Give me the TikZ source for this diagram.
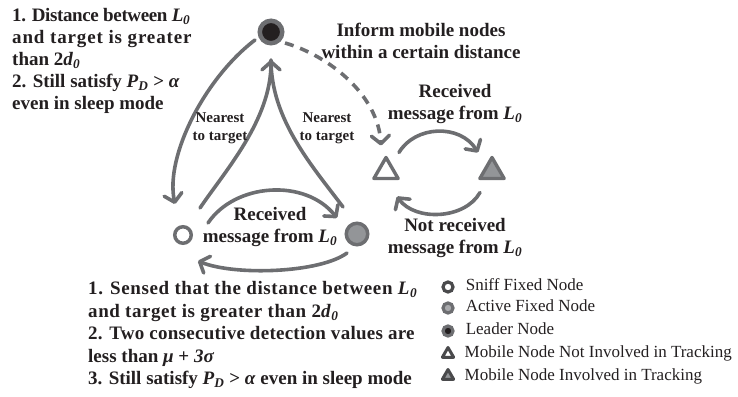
\documentclass[tikz,border=0pt]{standalone}
\usepackage{fontspec}
\setmainfont{Liberation Serif}
\usetikzlibrary{arrows.meta,shapes.geometric,positioning}
\definecolor{FlowGray}{HTML}{6D6E71}
\definecolor{ActiveGray}{HTML}{939598}
\definecolor{LeaderBlack}{HTML}{231F20}
\definecolor{KeyGray}{HTML}{4A4A4C}
\definecolor{InkBlack}{HTML}{231F20}
\newcommand{\Lzero}{\textit{L}\textsubscript{\textit{0}}}
\newcommand{\dzero}{\textit{d}\textsubscript{\textit{0}}}
\newcommand{\Pdet}{\textit{P}\textsubscript{\textit{D}}}
\newcommand{\tracked}[2]{{\addfontfeature{LetterSpace=#1}#2}}

\begin{document}
\begin{tikzpicture}[x=1pt,y=1pt,
	flow/.style={draw=FlowGray,line width=3.6pt,line cap=round,
		-{Straight Barb[length=8pt,width=18pt,round]}},
	plain/.style={draw=FlowGray,line width=3.6pt,line cap=round},
	lbl/.style={font=\fontsize{19}{22}\selectfont\bfseries,align=center,inner sep=0pt,text=InkBlack},
	smalllbl/.style={font=\fontsize{15}{18}\selectfont\bfseries,align=center,inner sep=0pt,text=InkBlack},
	keytext/.style={font=\fontsize{17}{20}\selectfont,inner sep=0pt,anchor=west,text=InkBlack,
		text height=11pt,text depth=3pt},
	fixednode/.style={circle,draw=FlowGray,inner sep=0pt},
	mobnode/.style={regular polygon,regular polygon sides=3,draw=FlowGray,line width=3.4pt,
		line join=round,inner sep=0pt,minimum size=28pt},
	keycircle/.style={circle,inner sep=0pt,minimum size=10pt,line width=3.2pt},
	keytri/.style={regular polygon,regular polygon sides=3,inner sep=0pt,minimum size=13pt,
		line width=3pt,line join=round,draw=KeyGray}]
	\useasboundingbox (0,0) rectangle (738,396);

	% the five nodes of the state diagram
	\node[fixednode,fill=LeaderBlack,line width=4.5pt,minimum size=22.5pt] (leader) at (271,364) {};
	\node[fixednode,fill=white,line width=3.5pt,minimum size=16.5pt] (sniff) at (183,161) {};
	\node[fixednode,fill=ActiveGray,line width=3.5pt,minimum size=21.5pt] (active) at (357,162) {};
	\node[mobnode,fill=white] (mobfree) at (386,224.5) {};
	\node[mobnode,fill=ActiveGray] (mobtrack) at (492,224.5) {};

	% fixed nodes
	\draw[flow] ([shift={(-16,-8)}]leader.center) .. controls +(-50,-38) and +(-10,48) .. ([shift={(-8,31)}]sniff.center);
	\draw[flow] ([shift={(17,27)}]sniff.center) .. controls +(25,37) and +(0,-60) .. ([yshift=-28]leader.center);
	\draw[plain] ([shift={(-14,27)}]active.center) .. controls +(-30,40) and +(0,-60) .. ([yshift=-28]leader.center);
	\draw[flow] ([shift={(25,12)}]sniff.center) .. controls +(27,40) and +(-32,40) .. ([shift={(-20,16)}]active.center);
	\draw[flow] ([shift={(-10,-19)}]active.center) .. controls +(-27,-20) and +(37,-15) .. ([shift={(15,-26)}]sniff.center);

	% mobile nodes
	\draw[flow,dash pattern=on 9pt off 7pt,line cap=butt] ([shift={(14,-11)}]leader.center) .. controls +(45,-13) and +(-3,50) .. ([shift={(-5,26)}]mobfree.center);
	\draw[flow] ([shift={(13,19)}]mobfree.center) .. controls +(16,27) and +(-18,29) .. ([shift={(-14,19)}]mobtrack.center);
	\draw[flow] ([shift={(-12,-21)}]mobtrack.center) .. controls +(-15,-27) and +(18,-25) .. ([shift={(11,-25)}]mobfree.center);

	% labels
	\node[lbl,align=left,anchor=north west] (farcond) at (12,388)
		{\tracked{-2}{1. Distance between \Lzero}\\\tracked{4.5}{and target is greater}\\than 2\dzero\\2. Still satisfy \Pdet{} > \textit{α}\\even in sleep mode};
	\node[lbl,anchor=north] (inform) at (421,373.5) {Inform mobile nodes\\within a certain distance};
	\node[lbl,anchor=north] (mobrecv) at (455,311.5) {Received\\message from \Lzero};
	\node[lbl,anchor=north] (mobnorecv) at (455,177.5) {Not received\\message from \Lzero};
	\node[lbl,anchor=north] (fixrecv) at (270,188.5) {Received\\message from \Lzero};
	\node[smalllbl,anchor=north] (nearleft) at (220,283.5) {Nearest\\to target};
	\node[smalllbl,anchor=north] (nearright) at (327,283.5) {Nearest\\to target};
	\node[lbl,align=left,anchor=north west,font=\fontsize{19}{22.5}\selectfont\bfseries] (sleepcond) at (88,114.5)
		{\tracked{3.2}{1. Sensed that the distance between \Lzero}\\\tracked{2.9}{and target is greater than 2\dzero}\\\tracked{1.4}{2. Two consecutive detection values are}\\less than \textit{μ} + \textit{3σ}\\3. Still satisfy \Pdet{} > \textit{α} even in sleep mode};

	% legend
	\node[keycircle,draw=KeyGray,fill=white] (keysniff) at (448,109) {};
	\node[keycircle,draw=FlowGray,fill=ActiveGray!80] (keyactive) at (448,88) {};
	\node[keycircle,draw=FlowGray,fill=LeaderBlack] (keyleader) at (448,65) {};
	\node[keytri,fill=white] (keyfree) at (448,42) {};
	\node[keytri,fill=ActiveGray] (keytrack) at (448,20) {};
	\node[keytext,right=11pt of keysniff] {Sniff Fixed Node};
	\node[keytext,right=11pt of keyactive] {Active Fixed Node};
	\node[keytext,right=11pt of keyleader] {Leader Node};
	\node[keytext,right=11pt of keyfree] {Mobile Node Not Involved in Tracking};
	\node[keytext,right=11pt of keytrack] {Mobile Node Involved in Tracking};
\end{tikzpicture}
\end{document}
